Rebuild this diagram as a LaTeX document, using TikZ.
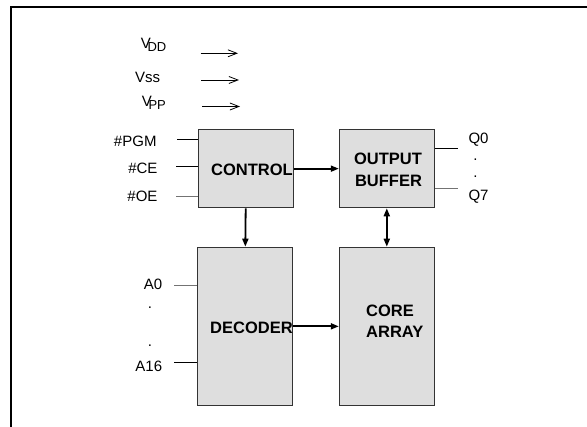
\documentclass[tikz,border=0pt]{standalone}
\usepackage{fontspec}
\setmainfont{Liberation Sans}
\usetikzlibrary{arrows.meta}
\begin{document}
\begin{tikzpicture}[x=1pt,y=-1pt,
  box/.style={draw=black!80, line width=1pt, fill=black!13, minimum width=95pt, anchor=north west, inner sep=0pt},
  lbl/.style={font=\fontsize{15}{18}\selectfont, inner sep=0pt},
  blbl/.style={font=\fontsize{16.5}{20}\selectfont\bfseries, inner sep=0pt, anchor=base west},
  pin/.style={line width=0.9pt},
  gpin/.style={line width=0.9pt, draw=black!55},
  bus/.style={line width=1.8pt, -{Triangle[length=8pt,width=6pt]}},
  pwr/.style={line width=0.8pt, -{Straight Barb[length=9pt,width=7pt]}}
]
\useasboundingbox (0,0) rectangle (587,427);
% frame
\draw[line width=2pt] (11,427) -- (11,7) -- (587,7);

% boxes
\node[box, minimum height=78.3pt] (ctrl) at (197.7,129) {};
\node[box, minimum height=78.3pt] (obuf) at (338.8,129) {};
\node[box, minimum height=158.3pt] (dec) at (197.3,246.7) {};
\node[box, minimum height=158.3pt] (core) at (338.8,246.7) {};

% box texts
\node[blbl] (tctrl) at (211,176) {CONTROL};
\node[blbl, anchor=base] (tout) at (388,164.5) {OUTPUT};
\node[blbl, anchor=base] (tbuf) at (388.5,187) {BUFFER};
\node[blbl] (tdec) at (210,333.5) {DECODER};
\node[blbl] (tcore) at (366,317) {CORE};
\node[blbl] (tarr) at (366,338) {ARRAY};

% bus arrows
\draw[bus] (ctrl.east) -- (obuf.west);
\draw[bus] (ctrl.south) -- (dec.north);
\draw[line width=1.8pt, {Triangle[length=8pt,width=6pt]}-{Triangle[length=8pt,width=6pt]}] (obuf.south) -- (core.north);
\draw[bus] (dec.east) -- (core.west);

% power labels and arrows
\node[lbl, anchor=base west] (lvdd) at (140.7,49) {V\kern-3.4pt\raisebox{-3pt}{\fontsize{13}{15}\selectfont DD}};
\node[lbl, anchor=base west] (lvss) at (135,82.5) {Vss};
\node[lbl, anchor=base west] (lvpp) at (141.7,107) {V\kern-3.4pt\raisebox{-3pt}{\fontsize{13}{15}\selectfont PP}};
\coordinate (vdda) at (200.7,53.3); \coordinate (vddb) at (238,53.3);
\coordinate (vssa) at (201,80); \coordinate (vssb) at (239,80);
\coordinate (vppa) at (202,106.5); \coordinate (vppb) at (240,106.5);
\draw[pwr] (vdda) -- (vddb);
\draw[pwr] (vssa) -- (vssb);
\draw[pwr] (vppa) -- (vppb);

% control pins
\node[lbl, anchor=base east] (lpgm) at (156.7,146.3) {\#PGM};
\node[lbl, anchor=base east] (lce) at (157.7,173.6) {\#CE};
\node[lbl, anchor=base east] (loe) at (157.7,202) {\#OE};
\coordinate (cpgm) at (177,139.3);
\coordinate (cce) at (176,166.7);
\coordinate (coe) at (176,196);
\draw[pin] (cpgm) -- (cpgm -| ctrl.west);
\draw[pin] (cce) -- (cce -| ctrl.west);
\draw[gpin] (coe) -- (coe -| ctrl.west);

% outputs
\node[lbl, anchor=base west] (lq0) at (468.3,144) {Q0};
\node[lbl, anchor=base] (qd1) at (475.5,160.5) {.};
\node[lbl, anchor=base] (qd2) at (475.5,177.5) {.};
\node[lbl, anchor=base west] (lq7) at (468.3,200.7) {Q7};
\coordinate (cq0) at (457.5,148.3);
\coordinate (cq7) at (457.5,188.3);
\draw[pin] (obuf.east |- cq0) -- (cq0);
\draw[gpin] (obuf.east |- cq7) -- (cq7);

% address pins
\node[lbl, anchor=base east] (la0) at (162.3,289.3) {A0};
\node[lbl, anchor=base] (ad1) at (150,309) {.};
\node[lbl, anchor=base] (ad2) at (150,346.3) {.};
\node[lbl, anchor=base east] (la16) at (162.3,371.3) {A16};
\coordinate (ca0) at (174.3,285);
\coordinate (ca16) at (174.3,362.7);
\draw[gpin] (ca0) -- (ca0 -| dec.west);
\draw[pin] (ca16) -- (ca16 -| dec.west);
\end{tikzpicture}
\end{document}
